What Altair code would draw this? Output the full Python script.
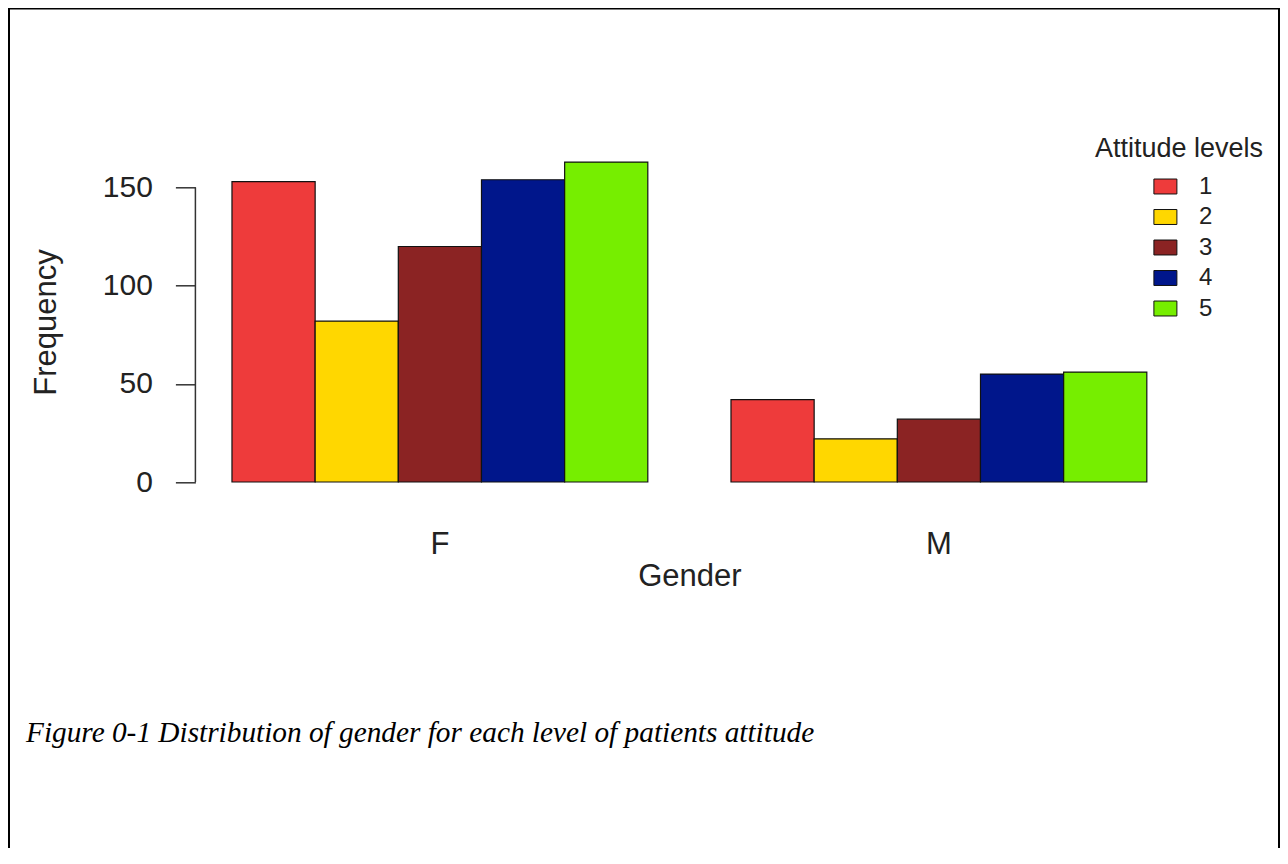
import altair as alt
import pandas as pd

# ---- data ----
genders = ["F", "M"]
levels = ["1", "2", "3", "4", "5"]
freq_F = [153, 82, 120, 154, 163]
freq_M = [42, 22, 32, 55, 56]
level_colors = ["#EE3B3B", "#FFD700", "#8B2323", "#00168B", "#76EE00"]
y_ticks = [0, 50, 100, 150]
x_title = "Gender"
y_title = "Frequency"
legend_title = "Attitude levels"
caption = "Figure 0-1 Distribution of gender for each level of patients attitude"

rows = []
for g, vals in zip(genders, [freq_F, freq_M]):
    for lv, v in zip(levels, vals):
        rows.append({"Gender": g, "Level": lv, "Frequency": v})
df = pd.DataFrame(rows)

# ---- layout ----
W, H = 988, 345.5
PAD_L, PAD_T = 187.4, 141.3
TOTAL_W, TOTAL_H = 1272, 840
SANS = "Liberation Sans"
SERIF = "Liberation Serif"
INK = "#222222"
AXC = "#333333"

yscale = alt.Scale(domain=[-6.52, 169.52], nice=False, zero=False)

bars = alt.Chart(df).mark_bar(stroke="#111111", strokeWidth=1.2).encode(
    x=alt.X(
        "Gender:N", sort=genders,
        scale=alt.Scale(paddingInner=1 / 6, paddingOuter=0.0733),
        axis=alt.Axis(
            title=x_title, ticks=False, tickSize=0, domain=False, labelAngle=0,
            labelFontSize=31, labelFont=SANS, labelColor=INK,
            labelBaseline="alphabetic", labelPadding=58.5,
            titleFont=SANS, titleFontSize=31, titleFontWeight="normal",
            titleColor=INK, titleBaseline="alphabetic",
            titleX=W / 2, titleY=90.2, titleAlign="center",
        ),
    ),
    xOffset=alt.XOffset("Level:N", sort=levels,
                        scale=alt.Scale(paddingInner=0, paddingOuter=0)),
    y=alt.Y(
        "Frequency:Q", scale=yscale, stack=None,
        axis=alt.Axis(
            title=y_title, values=y_ticks, domain=False, grid=False,
            tickSize=20, tickColor=AXC, tickWidth=1.5,
            labelPadding=23, labelFont=SANS, labelFontSize=30,
            labelColor=INK, labelBaseline="middle",
            titleFont=SANS, titleFontSize=31, titleFontWeight="normal",
            titleColor=INK, titleAngle=270, titleBaseline="alphabetic",
            titleAlign="center", titleX=-139.6, titleY=H / 2,
        ),
    ),
    y2=alt.datum(0),
    color=alt.Color(
        "Level:N", sort=levels,
        scale=alt.Scale(domain=levels, range=level_colors),
        legend=alt.Legend(
            title=None, orient="none", legendX=958, legendY=25.2, padding=0,
            symbolType="M-1,-0.65L1,-0.65L1,0.65L-1,0.65Z", symbolSize=529,
            symbolStrokeColor="#111111", symbolStrokeWidth=1, symbolOpacity=1,
            labelFont=SANS, labelFontSize=24, labelColor=INK,
            labelOffset=21.5, rowPadding=6.5,
        ),
    ),
)

one = pd.DataFrame({"k": [0]})

y_axis_line = alt.Chart(one).mark_rule(color=AXC, strokeWidth=1.5).encode(
    x=alt.value(0), y=alt.datum(y_ticks[0]), y2=alt.datum(y_ticks[-1])
)

legend_title_text = alt.Chart(pd.DataFrame({"t": [legend_title]})).mark_text(
    font=SANS, fontSize=27, color=INK, align="center", baseline="alphabetic"
).encode(text="t:N", x=alt.value(983.6), y=alt.value(7.7))

caption_text = alt.Chart(pd.DataFrame({"t": [caption]})).mark_text(
    font=SERIF, fontSize=29.3, fontStyle="italic", color="#000000",
    align="left", baseline="alphabetic"
).encode(text="t:N", x=alt.value(26 - PAD_L - 8), y=alt.value(742 - PAD_T - 8))

frame_left = alt.Chart(one).mark_rule(color="#000000", strokeWidth=2).encode(
    x=alt.value(9 - PAD_L - 8), y=alt.value(-PAD_T), y2=alt.value(TOTAL_H - PAD_T)
)
frame_right = alt.Chart(one).mark_rule(color="#000000", strokeWidth=2).encode(
    x=alt.value(TOTAL_W - 1 - PAD_L), y=alt.value(-PAD_T), y2=alt.value(TOTAL_H - PAD_T)
)
frame_top = alt.Chart(one).mark_rule(color="#000000", strokeWidth=1.5).encode(
    y=alt.value(-PAD_T + 0.75), x=alt.value(-PAD_L), x2=alt.value(TOTAL_W - PAD_L)
)

chart = alt.layer(
    bars, y_axis_line, legend_title_text, caption_text,
    frame_left, frame_right, frame_top,
).properties(
    width=W, height=H,
    autosize=alt.AutoSizeParams(type="none"),
    padding={"left": PAD_L, "top": PAD_T,
             "right": TOTAL_W - PAD_L - W, "bottom": TOTAL_H - PAD_T - H},
    background="white",
).configure_view(stroke=None)

chart.save("out.html", embed_options={"renderer": "svg", "actions": False})
